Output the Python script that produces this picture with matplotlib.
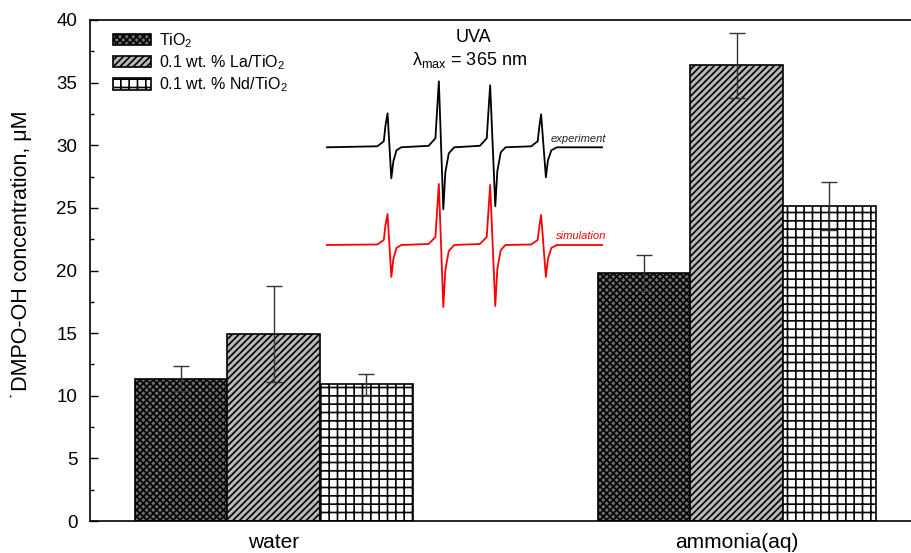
import numpy as np
import matplotlib
matplotlib.use("Agg")
import matplotlib.pyplot as plt

plt.rcParams['font.family'] = ['Liberation Sans', 'DejaVu Sans']
plt.rcParams['mathtext.fontset'] = 'custom'
plt.rcParams['mathtext.rm'] = 'Liberation Sans'
plt.rcParams['mathtext.it'] = 'Liberation Sans:italic'
plt.rcParams['mathtext.default'] = 'regular'
plt.rcParams['hatch.linewidth'] = 1.2

# данные
media = ['water', 'ammonia(aq)']
samples = ['TiO$_2$', '0.1 wt. % La/TiO$_2$', '0.1 wt. % Nd/TiO$_2$']
conc = [[11.35, 19.8],
        [14.95, 36.4],
        [10.9, 25.15]]
err = [[1.0, 1.45],
       [3.85, 2.6],
       [0.85, 1.95]]

# спектр ЭПР (вставка), поле в Гс, интенсивность в отн. ед.
B_exp = [3470, 3485.0, 3486.9, 3487.4, 3488.0, 3489.1, 3489.7, 3490.6, 3492.0,
         3500.0, 3502.0, 3502.5, 3503.0, 3504.3, 3504.9, 3505.9, 3507.5,
         3515.0, 3517.0, 3517.5, 3518.0, 3519.5, 3520.1, 3521.1, 3522.5,
         3530.0, 3531.9, 3532.4, 3532.9, 3534.3, 3534.9, 3535.9, 3537.5, 3551]
I_exp = [0, 0.1, 0.6, 2.2, 3.4, -3.1, -1.4, -0.3, 0,
         0.15, 0.9, 3.8, 6.6, -6.2, -2.5, -0.6, 0,
         0.15, 0.9, 3.6, 6.2, -5.9, -2.4, -0.5, 0,
         0.1, 0.6, 2.1, 3.3, -3.0, -1.3, -0.3, 0, 0]
B_sim = B_exp
I_sim = [0, 0.05, 0.5, 2.0, 3.1, -3.2, -1.4, -0.3, 0,
         0.1, 0.8, 3.5, 6.1, -6.2, -2.5, -0.6, 0,
         0.1, 0.8, 3.4, 6.0, -6.1, -2.4, -0.5, 0,
         0.05, 0.5, 1.9, 3.0, -3.2, -1.4, -0.3, 0, 0]
sim_shift = -9.77

fills = ['#6e6e6e', '#b8b8b8', 'white']
hatches = ['xxxxx', '/////', '++']

fig = plt.figure(figsize=(9.12, 5.53), dpi=100)
W, H = 912, 553
ax = fig.add_axes([90 / W, (H - 521) / H, 830 / W, 501 / H])

x = np.arange(len(media))
w = 0.2
for k in range(3):
    ax.bar(x + (k - 1) * w, conc[k], w, color=fills[k], edgecolor='black',
           hatch=hatches[k], linewidth=1.2, label=samples[k], zorder=2)
    ax.errorbar(x + (k - 1) * w, conc[k], yerr=err[k], fmt='none',
                ecolor='#333333', elinewidth=1, capsize=5.5, capthick=1,
                zorder=3)

ax.set_xlim(-0.397, 1.396)
ax.set_ylim(0, 40)
ax.set_yticks(np.arange(0, 41, 5))
ax.set_yticks(np.arange(0, 40, 2.5), minor=True)
ax.set_xticks(x)
ax.set_xticklabels(media, fontsize=15)
ax.tick_params(axis='x', length=0, pad=9)
ax.tick_params(axis='y', which='major', direction='in', length=6, width=1,
               labelsize=13.5, pad=9)
ax.tick_params(axis='y', which='minor', direction='in', length=3, width=1)
ax.spines['right'].set_visible(False)
for s in ['left', 'bottom', 'top']:
    ax.spines[s].set_linewidth(1.2)

fig.text(21.5 / W, 1 - 254 / H, '\u02d9DMPO-OH concentration, \u03bcM',
         rotation=90, ha='center', va='center', fontsize=15.5)

ax.legend(loc='upper left', bbox_to_anchor=(23 / 830, (521 - 31) / 501),
          frameon=False, fontsize=11.5, handlelength=2.35, handleheight=0.75,
          handletextpad=0.55, labelspacing=0.22, borderpad=0, borderaxespad=0)

fig.text(473 / W, 1 - 37 / H, 'UVA', ha='center', va='center', fontsize=13)
fig.text(469 / W, 1 - 60 / H, '$\\lambda_{max}$ = 365 nm', ha='center',
         va='center', fontsize=13)

# вставка со спектрами
ins = fig.add_axes([326 / W, (H - 315) / H, 277 / W, 240 / H])
ins.patch.set_alpha(0)
ins.plot(B_exp, I_exp, color='black', lw=1.3)
ins.plot(B_sim, np.array(I_sim) + sim_shift, color='red', lw=1.3)
ins.set_xlim(3470, 3551)
ins.set_ylim(-16.77, 7.23)
ins.axis('off')
ins.text(3552, 0.35, 'experiment', ha='right', va='bottom', fontsize=8,
         style='italic', color='#222222', clip_on=False)
ins.text(3552, sim_shift + 0.4, 'simulation', ha='right', va='bottom',
         fontsize=8, style='italic', color='red', clip_on=False)

fig.savefig('out.png', dpi=100)
